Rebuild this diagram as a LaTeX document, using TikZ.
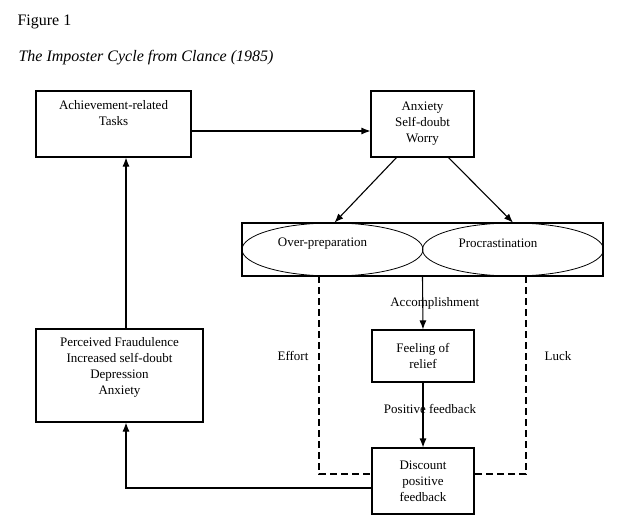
\documentclass[tikz,border=0pt]{standalone}
\usepackage{fontspec}
\setmainfont{Liberation Serif}
\usetikzlibrary{arrows.meta,shapes.geometric}

\begin{document}
\begin{tikzpicture}[x=1pt, y=-1pt, line width=1.1pt]
  % Stili dei nodi e delle frecce
  \tikzset{
    testo/.style={font=\fontsize{13}{16}\selectfont, align=center},
    casella/.style={draw, rectangle, inner sep=0pt},
    ovale/.style={draw, ellipse, inner sep=0pt, line width=0.8pt, minimum width=181pt, minimum height=53pt},
    freccia/.style={-{Latex[length=9pt,width=7pt]}},
    tratteggio/.style={dash pattern=on 7pt off 4pt}
  }
  \useasboundingbox (0,0) rectangle (635,527);

  % Titolo
  \node[anchor=base west, font=\fontsize{16}{19}\selectfont, inner sep=0pt] (fig) at (17,26) {Figure 1};
  \node[anchor=base west, font=\fontsize{16}{19}\selectfont\itshape, inner sep=0pt] (titolo) at (18,62) {The Imposter Cycle from Clance (1985)};

  % Caselle
  \node[casella, minimum width=155pt, minimum height=66pt,
        label={[testo, anchor=north, yshift=-6pt]north:Achievement-related\\Tasks}] (compito) at (113.5,124) {};
  \node[casella, testo, minimum width=103pt, minimum height=66pt] (ansia) at (422.5,124) {Anxiety\\Self-doubt\\Worry};
  \node[casella, minimum width=361pt, minimum height=53pt] (cornice) at (422.5,249.5) {};
  \node[ovale, label={[testo, xshift=-10pt, yshift=6pt]center:Over-preparation}] (prep) at (332.5,249.5) {};
  \node[ovale, label={[testo, xshift=-15pt, yshift=6pt]center:Procrastination}] (procr) at (513,249.5) {};
  \node[casella, testo, minimum width=102pt, minimum height=52pt] (sollievo) at (423,356) {Feeling of\\relief};
  \node[casella, testo, minimum width=102pt, minimum height=66pt] (sconto) at (423,481) {Discount\\positive\\feedback};
  \node[casella, minimum width=167pt, minimum height=93pt,
        label={[testo, anchor=north, yshift=-5pt]north:Perceived Fraudulence\\Increased self-doubt\\Depression\\Anxiety}] (percepito) at (119.5,375.5) {};

  % Etichette dei percorsi tratteggiati
  \node[testo] (sforzo) at (293,356) {Effort};
  \node[testo] (fortuna) at (558,356) {Luck};
  \coordinate (sforzoTop) at (319,276);
  \coordinate (fortunaTop) at (526,276);

  % Frecce del ciclo
  \draw[freccia] ([yshift=-7pt]compito.east) -- ([yshift=-7pt]ansia.west);
  \draw[freccia] ([xshift=-26pt]ansia.south) -- ([xshift=2pt]prep.north);
  \draw[freccia] ([xshift=26pt]ansia.south) -- (procr.north);
  \draw[freccia] (cornice.south) -- node[testo, xshift=12pt] (realizz) {Accomplishment} (sollievo.north);
  \draw[freccia] (sollievo.south) -- node[testo, pos=0.4, xshift=7pt] (feedback) {Positive feedback} (sconto.north);
  \draw[tratteggio] (sforzoTop) |- ([yshift=7pt]sconto.west);
  \draw[tratteggio] (fortunaTop) |- ([yshift=7pt]sconto.east);
  \draw[freccia] ([yshift=-7pt]sconto.west) -| ([xshift=6.5pt]percepito.south);
  \draw[freccia] ([xshift=6.5pt]percepito.north) -- ([xshift=6.5pt]percepito.north |- compito.south);
\end{tikzpicture}
\end{document}
